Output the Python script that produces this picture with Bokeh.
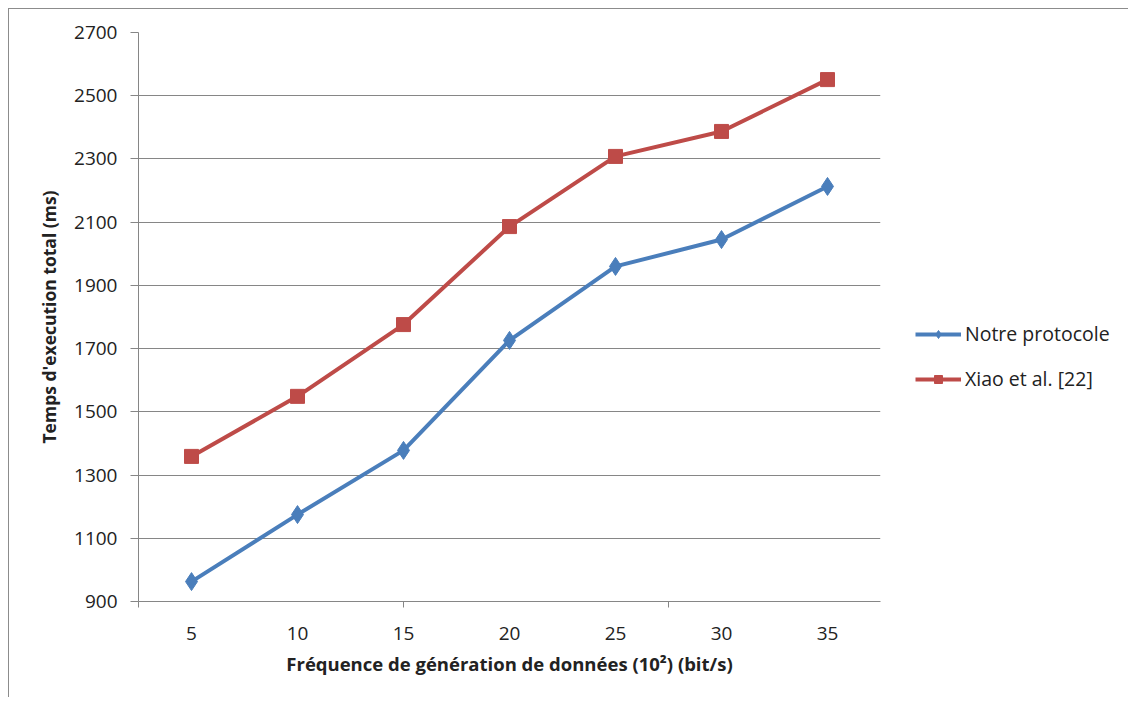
from bokeh.plotting import figure
from bokeh.models import FixedTicker, Legend, LegendItem, Range1d
from bokeh.embed import file_html
from bokeh.resources import INLINE

x_vals = [5, 10, 15, 20, 25, 30, 35]
notre = [963, 1175, 1378, 1726, 1960, 2045, 2213]
xiao = [1359, 1549, 1776, 2086, 2308, 2387, 2551]
y_ticks = [900, 1100, 1300, 1500, 1700, 1900, 2100, 2300, 2500, 2700]
x_minor = [2.5, 15, 27.5, 40]

FONT = "Open Sans"
BLUE = "#4A7EBB"
RED = "#BE4B48"
GRID = "#868686"

p = figure(frame_width=742, frame_height=569, output_backend="svg", toolbar_location=None,
           x_range=Range1d(2.5, 37.5), y_range=Range1d(900, 2700),
           min_border_left=138, min_border_right=0, min_border_top=32, min_border_bottom=96)
p.border_fill_alpha = 0
p.styles = {"background": "linear-gradient(#8c8c8c,#8c8c8c) 8px 8px / 1px 100% no-repeat, "
                          "linear-gradient(#8c8c8c,#8c8c8c) 8px 8px / 100% 1px no-repeat, white"}
p.outline_line_color = None
p.xgrid.grid_line_color = None
p.ygrid.grid_line_color = GRID
p.ygrid.grid_line_width = 1

p.xaxis.ticker = FixedTicker(ticks=x_vals, minor_ticks=x_minor)
p.xaxis.major_tick_line_color = None
p.xaxis.minor_tick_out = 6
p.xaxis.minor_tick_in = 0
p.xaxis.minor_tick_line_color = GRID
p.xaxis.axis_line_color = GRID
p.xaxis.major_label_standoff = 19
p.xaxis.axis_label = "Fréquence de génération de données (10²) (bit/s)"

p.yaxis.ticker = FixedTicker(ticks=y_ticks)
p.yaxis.major_tick_out = 8
p.yaxis.major_tick_in = 0
p.yaxis.major_tick_line_color = GRID
p.yaxis.minor_tick_line_color = None
p.yaxis.axis_line_color = GRID
p.yaxis.major_label_standoff = 13
p.yaxis.axis_label = "Temps d'execution total (ms)"

for ax in (p.xaxis, p.yaxis):
    ax.major_label_text_font = FONT
    ax.major_label_text_font_size = "19px"
    ax.major_label_text_color = "#222222"
    ax.axis_label_text_font = FONT
    ax.axis_label_text_font_style = "bold"
    ax.axis_label_text_color = "#222222"
p.xaxis.axis_label_text_font_size = "18.5px"
p.yaxis.axis_label_text_font_size = "17.5px"
p.xaxis.axis_label_standoff = 8
p.yaxis.axis_label_standoff = 10

l1 = p.line(x_vals, notre, line_color=BLUE, line_width=4)
m1 = p.scatter(x_vals, notre, marker="diamond", size=18, fill_color=BLUE, line_color=BLUE)
l2 = p.line(x_vals, xiao, line_color=RED, line_width=4)
m2 = p.scatter(x_vals, xiao, marker="square", size=14, fill_color=RED, line_color=RED)

legend = Legend(items=[LegendItem(label="Notre protocole", renderers=[l1, m1]),
                       LegendItem(label="Xiao et al. [22]", renderers=[l2, m2])],
                location=(35, 209), orientation="vertical", margin=15,
                label_text_font=FONT, label_text_font_size="19.5px", label_text_color="#222222",
                glyph_width=46, label_standoff=4, spacing=18,
                border_line_color=None, background_fill_alpha=0)
p.add_layout(legend, "right")

open("out.html", "w").write(file_html(p, INLINE))
